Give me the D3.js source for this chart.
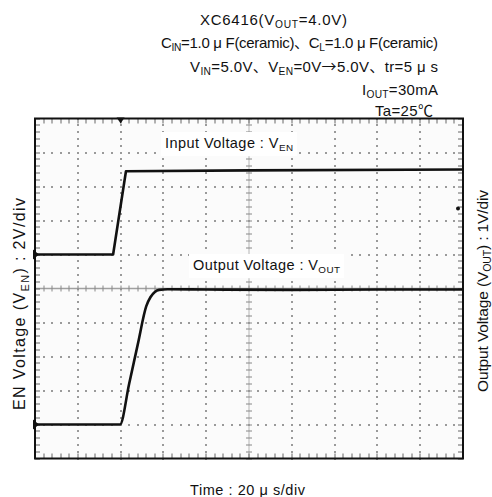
<!DOCTYPE html>
<html><head><meta charset="utf-8">
<script src="https://cdn.jsdelivr.net/npm/d3@7"></script>
<style>
body{margin:0;background:#fff}
text{font-family:"Liberation Sans","Noto Sans CJK JP",sans-serif;fill:#111}
</style>
</head><body><svg id="c" width="492" height="497"></svg>
<script>
// ---- data ----
const timeDivs = [0,20,40,60,80,100,120,140,160,180,200];      // µs, 20 µs/div
const enDivs   = [-12,-10,-8,-6,-4,-2,0,2,4,6,8];               // V, 2 V/div (EN channel)
const enTime = [0, 36.5, 42.5, 100, 200];
const enVolt = [0, 0, 4.9, 4.95, 5.0];
const outTime = [0, 39.7, 44, 48, 52, 54, 56, 58, 62, 80, 120, 160, 200];
const outVolt = [0, 0, 1.2, 2.35, 3.48, 3.75, 3.9, 3.96, 3.98, 3.97, 3.96, 3.97, 3.97];
const trigTime = 40, trigLevelEN = 2.7;
const titleLines = [
  [["XC6416(V"],["OUT","sub"],["=4.0V)"]],
  [["C"],["IN","sub"],["=1.0 μ F(ceramic)、C"],["L","sub"],["=1.0 μ F(ceramic)"]],
  [["V"],["IN","sub"],["=5.0V、V"],["EN","sub"],["=0V"],["→","cjk"],["5.0V、tr=5 μ s"]],
  [["I"],["OUT","sub"],["=30mA"]],
  [["Ta=25℃"]]
];

// ---- layout ----
const svg = d3.select("#c");
const L=35, R=463, T=118.5, B=458.5;
const x = d3.scaleLinear().domain([0,200]).range([L,R]);
const yEN = d3.scaleLinear().domain([-12,8]).range([B,T]);
const yOut = d3.scaleLinear().domain([-1,9]).range([B,T]);

function rich(t, parts, size, len){
  let pend = 0;
  parts.forEach(p=>{
    const s = t.append("tspan").text(p[0]);
    if(p[1]==="sub"){
      s.attr("font-size",size*0.68).attr("dy",size*0.22 + pend); pend = -size*0.22;
    } else {
      if(pend) s.attr("dy",pend); pend = 0;
      if(p[1]==="cjk") s.style("font-family","'Noto Sans CJK JP'");
    }
  });
  if(len) t.attr("textLength",len).attr("lengthAdjust","spacing");
  return t;
}

// title
const tPos = [[200,25,147],[161,48,277],[190,72,248],[362,95,76],[375,116,58]];
titleLines.forEach((ln,i)=>{
  const t = svg.append("text").attr("x",tPos[i][0]).attr("y",tPos[i][1]).attr("font-size",15);
  rich(t, ln, 15, tPos[i][2]);
});

// plot background
svg.append("rect").attr("x",L).attr("y",T).attr("width",R-L).attr("height",B-T).attr("fill","#fbfbfb");

const g = svg.append("g");
const minorX = d3.range(0,200.01,4);
const minorYEN = d3.range(-12,8.01,0.4);
const px = v=>Math.round(v);

// dotted grid lines
timeDivs.filter(d=>d>0&&d<200&&d!==100).forEach(d=>{
  g.selectAll(null).data(minorYEN).enter().append("rect")
    .attr("x",px(x(d))-1).attr("y",v=>px(yEN(v))-1).attr("width",2).attr("height",2).attr("fill","#9a9a9a");
});
enDivs.filter(d=>d>-12&&d<8&&d!==-2).forEach(d=>{
  g.selectAll(null).data(minorX).enter().append("rect")
    .attr("x",t=>px(x(t))-1).attr("y",px(yEN(d))-1).attr("width",2).attr("height",2).attr("fill","#9a9a9a");
});
// center crosshair
g.append("line").attr("x1",px(x(100))).attr("x2",px(x(100))).attr("y1",T).attr("y2",B).attr("stroke","#b5b5b5").attr("stroke-width",1);
g.append("line").attr("x1",L).attr("x2",R).attr("y1",yEN(-2)).attr("y2",yEN(-2)).attr("stroke","#a0a0a0").attr("stroke-width",1.3);
g.selectAll(null).data(minorYEN).enter().append("line")
  .attr("x1",px(x(100))-3).attr("x2",px(x(100))+3).attr("y1",v=>px(yEN(v))).attr("y2",v=>px(yEN(v))).attr("stroke","#888");
g.selectAll(null).data(minorX).enter().append("line")
  .attr("y1",yEN(-2)-3).attr("y2",yEN(-2)+3).attr("x1",t=>px(x(t))).attr("x2",t=>px(x(t))).attr("stroke","#888");
// edge ticks
g.selectAll(null).data(minorX).enter().append("line")
  .attr("x1",t=>px(x(t))).attr("x2",t=>px(x(t))).attr("y1",T).attr("y2",T+5).attr("stroke","#666");
g.selectAll(null).data(minorX).enter().append("line")
  .attr("x1",t=>px(x(t))).attr("x2",t=>px(x(t))).attr("y1",B).attr("y2",B-5).attr("stroke","#666");
g.selectAll(null).data(minorYEN).enter().append("line")
  .attr("y1",v=>px(yEN(v))).attr("y2",v=>px(yEN(v))).attr("x1",L).attr("x2",L+5).attr("stroke","#666");
g.selectAll(null).data(minorYEN).enter().append("line")
  .attr("y1",v=>px(yEN(v))).attr("y2",v=>px(yEN(v))).attr("x1",R).attr("x2",R-5).attr("stroke","#666");

// annotations with white boxes
function label(xp, yp, parts, len){
  const gg = svg.append("g");
  const rect = gg.append("rect").attr("fill","#fff");
  const t = gg.append("text").attr("x",xp).attr("y",yp).attr("font-size",14.5);
  rich(t, parts, 14.5, len);
  const bb = t.node().getBBox();
  rect.attr("x",bb.x-4).attr("y",bb.y-3).attr("width",bb.width+8).attr("height",bb.height+6);
}
label(165,148,[["Input Voltage : V"],["EN","sub"]],128);
label(193,270,[["Output Voltage : V"],["OUT","sub"]],147);

// traces
const lineEN = d3.line().x(d=>x(d[0])).y(d=>yEN(d[1]));
const lineOut = d3.line().x(d=>x(d[0])).y(d=>yOut(d[1])).curve(d3.curveMonotoneX);
svg.append("path").datum(d3.zip(enTime,enVolt)).attr("d",lineEN)
  .attr("fill","none").attr("stroke","#111").attr("stroke-width",2.6).attr("stroke-linejoin","round");
svg.append("path").datum(d3.zip(outTime,outVolt)).attr("d",lineOut)
  .attr("fill","none").attr("stroke","#111").attr("stroke-width",2.6).attr("stroke-linejoin","round");

// frame
svg.append("rect").attr("x",L).attr("y",T).attr("width",R-L).attr("height",B-T)
  .attr("fill","none").attr("stroke","#111").attr("stroke-width",2);

// markers
const tri = (cx,cy,dir)=> dir==="right" ? `M${cx-2},${cy-5}L${cx+4},${cy}L${cx-2},${cy+5}Z` : `M${cx-4},${cy-1}L${cx+4},${cy-1}L${cx},${cy+5}Z`;
svg.append("path").attr("d",tri(L,yEN(0),"right")).attr("fill","#111");
svg.append("path").attr("d",tri(L,yOut(0),"right")).attr("fill","#111");
svg.append("path").attr("d",tri(x(trigTime),T,"down")).attr("fill","#111");
svg.append("circle").attr("cx",R-5).attr("cy",yEN(trigLevelEN)).attr("r",2).attr("fill","#111");

// axis labels
const lt = svg.append("text").attr("transform","translate(25,410) rotate(-90)").attr("font-size",16);
rich(lt,[["EN Voltage (V"],["EN","sub"],[") : 2V/div"]],16,212);
const rt = svg.append("text").attr("transform","translate(488,392) rotate(-90)").attr("font-size",15.5);
rich(rt,[["Output Voltage (V"],["OUT","sub"],[") : 1V/div"]],15.5,202);
const bt = svg.append("text").attr("x",190).attr("y",495).attr("font-size",14.5);
rich(bt,[["Time : 20 μ s/div"]],14.5,115);
</script></body></html>
